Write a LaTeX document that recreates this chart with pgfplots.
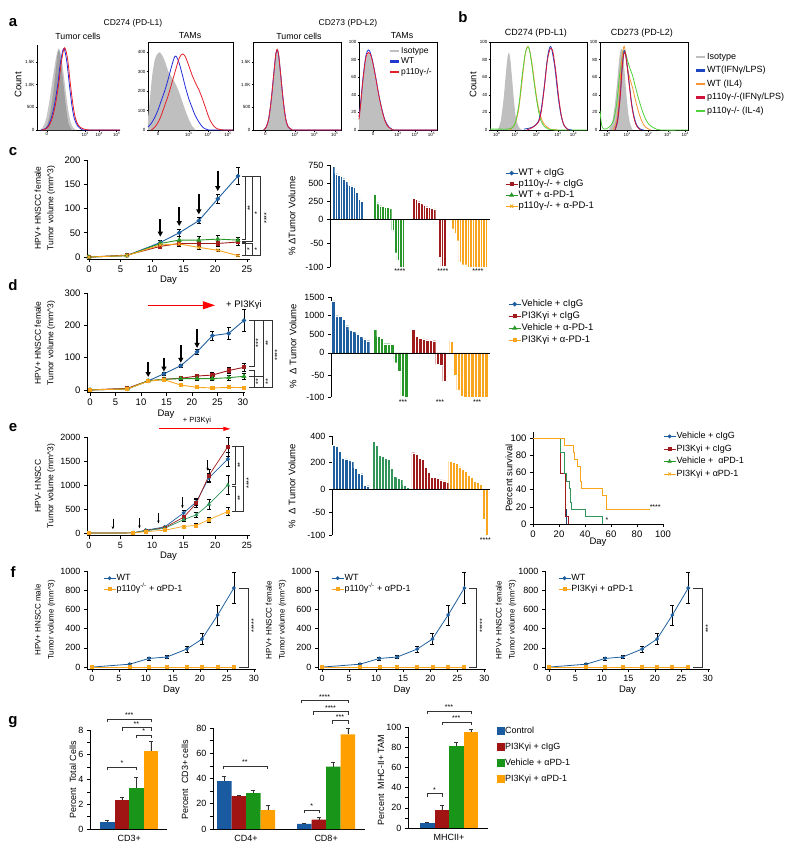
\documentclass[border=0pt]{standalone}
\usepackage{fontspec}
\setmainfont{Liberation Sans}
\usepackage{pgfplots}
\pgfplotsset{compat=1.18}
\usetikzlibrary{arrows.meta}

\definecolor{cblue}{RGB}{31,95,160}
\definecolor{cred}{RGB}{160,28,28}
\definecolor{cgreen}{RGB}{40,150,40}
\definecolor{corange}{RGB}{250,165,30}
\definecolor{egreen}{RGB}{50,150,90}
\definecolor{hblue}{RGB}{35,45,220}
\definecolor{hred}{RGB}{230,30,40}
\definecolor{bblue}{RGB}{30,70,190}
\definecolor{borange}{RGB}{245,150,50}
\definecolor{bred}{RGB}{210,20,60}
\definecolor{bgreen}{RGB}{80,210,60}
\definecolor{gblue}{RGB}{25,90,160}
\definecolor{gred}{RGB}{160,20,20}
\definecolor{ggreen}{RGB}{25,150,25}
\definecolor{gorange}{RGB}{255,160,0}

\newcommand{\fs}[1]{\fontsize{#1}{#1}\selectfont}
\newcommand{\vbr}[7]{\draw[line width=0.5pt, black!80] (axis cs:#1,#3) -- (axis cs:#2,#3) -- (axis cs:#2,#4) -- (axis cs:#1,#4); \node[rotate=90, font=\fs{7}, inner sep=0pt] at (axis cs:#6,#7) {#5};}
\newcommand{\hbr}[6]{\draw[line width=0.5pt, black!80] (axis cs:#1,#4) -- (axis cs:#1,#3) -- (axis cs:#2,#3) -- (axis cs:#2,#4); \node[font=\fs{7}, anchor=south, inner sep=1pt] at (axis cs:#6,#3) {#5};}

\tikzset{
  arr/.style={-{Triangle[length=5pt,width=5pt]}, line width=1.8pt, black},
  sarr/.style={-{Stealth[length=3pt,width=2.5pt]}, line width=0.7pt, black},
}

\pgfplotsset{
  base/.style={scale only axis, anchor=south west, clip=false,
    tick align=outside, axis line style={line width=0.6pt, black},
    tick style={black, line width=0.6pt}, major tick length=3pt,
    /pgf/number format/assume math mode=true,
    /pgf/number format/1000 sep={},
    tick label style={font=\fs{9.5}},
    label style={font=\fs{9.5}}},
  hist/.style={base, xmin=0, xmax=100, ymin=0, tick pos=left,
    tick label style={font=\fs{4.5}},
    major tick length=1.5pt, axis line style={line width=0.5pt},
    tick style={black, line width=0.4pt},
    xticklabel style={inner sep=1pt}, yticklabel style={inner sep=1pt}},
  lg/.style={legend style={draw=none, fill=none, anchor=north west,
      nodes={inner sep=0.5pt, text height=7pt, text depth=2pt}, row sep=1pt},
    legend cell align=left,
    legend image code/.code={\draw[mark repeat=2, mark phase=2] plot coordinates {(0pt,0pt)(6pt,0pt)(12pt,0pt)};}},
  ln/.style={base, axis lines*=left, xlabel={Day}, xlabel style={yshift=3pt}, lg},
  wf/.style={base, axis y line*=left, axis x line=none, ymin=-100, xtick=\empty, tick label style={font=\fs{9}}},
  gb/.style={base, axis lines*=left, ymin=0, xtick style={draw=none}, minor y tick num=1, tick label style={font=\fs{9}}},
  eb/.style={error bars/y dir=both, error bars/y explicit,
    error bars/error bar style={line width=0.6pt, black},
    error bars/error mark options={rotate=90, mark size=2pt, line width=0.6pt, black}},
  ebp/.style={error bars/y dir=plus, error bars/y explicit,
    error bars/error bar style={line width=0.5pt, black!80},
    error bars/error mark options={rotate=90, mark size=2pt, line width=0.5pt, black!80}},
  hb/.style={ybar, bar width=1, bar shift=0pt, draw=white, line width=0.15pt},
  gbar/.style={ybar, bar width=1, bar shift=0pt, draw=none, forget plot, ebp},
  sB/.style={cblue, line width=0.9pt, mark=*, mark size=1.8pt, mark options={solid}, eb},
  sR/.style={cred, line width=0.9pt, mark=square*, mark size=1.6pt, mark options={solid}, eb},
  sG/.style={cgreen, line width=0.9pt, mark=triangle*, mark size=2pt, mark options={solid}, eb},
  sO/.style={corange, line width=0.9pt, mark=x, mark size=2.2pt, mark options={solid}, eb},
  sOs/.style={corange, line width=0.9pt, mark=square*, mark size=1.6pt, mark options={solid}, eb},
  hl/.style={line width=0.8pt, smooth, forget plot},
  hf/.style={draw=none, smooth, forget plot},
}

\begin{document}
\begin{tikzpicture}
\path[use as bounding box] (0pt,0pt) rectangle (800pt,-852pt);

% ---------- panel letters and titles ----------
\node[font=\bfseries\fs{15}] at (13pt,-23pt) {a};
\node[font=\bfseries\fs{15}] at (463pt,-17pt) {b};
\node[font=\bfseries\fs{15}] at (13pt,-152pt) {c};
\node[font=\bfseries\fs{15}] at (13pt,-285pt) {d};
\node[font=\bfseries\fs{15}] at (13pt,-428pt) {e};
\node[font=\bfseries\fs{15}] at (13pt,-572pt) {f};
\node[font=\bfseries\fs{15}] at (13pt,-722pt) {g};

\node[font=\fs{8.5}] at (133pt,-23pt) {CD274 (PD-L1)};
\node[font=\fs{8.5}] at (348pt,-23pt) {CD273 (PD-L2)};
\node[font=\fs{8.8}] at (78pt,-36pt) {Tumor cells};
\node[font=\fs{8.8}] at (190pt,-36pt) {TAMs};
\node[font=\fs{8.8}] at (299pt,-36pt) {Tumor cells};
\node[font=\fs{8.8}] at (402pt,-36pt) {TAMs};
\node[font=\fs{9}] at (536pt,-33pt) {CD274 (PD-L1)};
\node[font=\fs{9}] at (642pt,-33pt) {CD273 (PD-L2)};
\node[font=\fs{9.5}, rotate=90] at (18pt,-85pt) {Count};
\node[font=\fs{9.5}, rotate=90] at (473pt,-85pt) {Count};

% y labels
\node[font=\fs{8.5}, rotate=90, align=center] at (45pt,-208pt) {HPV+ HNSCC female\\[4pt]Tumor volume (mm\textasciicircum 3)};
\node[font=\fs{8.5}, rotate=90, align=center] at (45pt,-343pt) {HPV+ HNSCC female\\[4pt]Tumor volume (mm\textasciicircum 3)};
\node[font=\fs{8.5}, rotate=90, align=center] at (45pt,-486pt) {HPV- HNSCC\\[4pt]Tumor volume (mm\textasciicircum 3)};
\node[font=\fs{8}, rotate=90, align=center] at (45pt,-620pt) {HPV+ HNSCC male\\[5pt]Tumor volume (mm\textasciicircum 3)};
\node[font=\fs{8}, rotate=90, align=center] at (276pt,-620pt) {HPV+ HNSCC female\\[5pt]Tumor volume (mm\textasciicircum 3)};
\node[font=\fs{8}, rotate=90, align=center] at (506pt,-620pt) {HPV+ HNSCC female\\[5pt]Tumor volume (mm\textasciicircum 3)};
\node[font=\fs{9.5}, rotate=90] at (292pt,-216pt) {\% ΔTumor Volume};
\node[font=\fs{9.5}, rotate=90] at (293pt,-346pt) {\%~~Δ~Tumor Volume};
\node[font=\fs{9.5}, rotate=90] at (292pt,-486pt) {\%~~Δ~Tumor Volume};
\node[font=\fs{9.5}, rotate=90] at (509pt,-478pt) {Percent survival};
\node[font=\fs{9}, rotate=90] at (73pt,-780pt) {Percent~~Total Cells};
\node[font=\fs{9}, rotate=90] at (185pt,-780pt) {Percent~~CD3+ cells};
\node[font=\fs{9}, rotate=90] at (381pt,-780pt) {Percent~~MHC-II+ TAM};

% ---------- panel a ----------
\begin{axis}[hist, axis lines*=left, at={(37pt,-130pt)}, width=83pt, height=85pt, ymax=1875,
  xtick={12,58,75,96}, xticklabels={0,10\textsuperscript{3},10\textsuperscript{4},10\textsuperscript{5}},
  ytick={0,500,1000,1500}, yticklabels={0,500,1.0K,1.5K}]
\addplot[hf, fill=gray!45] coordinates {(3,0)(7,60)(11,250)(15,650)(19,1150)(23,1600)(26,1800)(29,1650)(32,1250)(35,800)(38,400)(41,150)(44,40)(48,0)} \closedcycle;
\addplot[hf, fill=gray!75] coordinates {(8,0)(12,100)(16,400)(20,900)(23,1400)(25,1700)(27,1750)(29,1500)(32,1000)(35,500)(38,150)(42,0)} \closedcycle;
\addplot[hl, hblue] coordinates {(5,0)(9,20)(13,80)(17,250)(21,550)(25,1000)(28,1450)(31,1750)(33,1780)(36,1500)(39,1000)(42,550)(45,250)(49,90)(53,25)(58,0)(100,0)};
\addplot[hl, hred] coordinates {(6,0)(10,20)(14,80)(18,240)(22,540)(26,1000)(29,1450)(32,1770)(34,1800)(37,1550)(40,1050)(43,600)(46,280)(50,100)(55,30)(60,5)(70,0)(100,0)};
\end{axis}

\begin{axis}[hist, at={(148pt,-130pt)}, width=85pt, height=88pt, ymax=451,
  xtick={12,48,71,94}, xticklabels={0,10\textsuperscript{3},10\textsuperscript{4},10\textsuperscript{5}},
  ytick={0,100,200,300,400}]
\addplot[hf, fill=gray!50] coordinates {(0,60)(2,150)(5,280)(8,360)(11,390)(14,398)(17,380)(20,350)(24,300)(28,270)(32,240)(36,200)(40,150)(44,100)(48,55)(52,20)(56,0)} \closedcycle;
\addplot[hl, hblue] coordinates {(0,15)(4,35)(8,65)(12,105)(16,155)(20,205)(24,265)(28,330)(31,372)(33,378)(36,352)(40,290)(44,220)(48,160)(51,125)(55,80)(60,40)(65,12)(70,2)(75,0)(100,0)};
\addplot[hl, hred] coordinates {(4,0)(8,15)(12,40)(16,80)(20,130)(24,180)(28,240)(32,300)(36,360)(39,385)(41,390)(44,375)(48,330)(52,280)(56,240)(60,205)(64,160)(68,110)(72,60)(76,28)(80,10)(85,2)(90,0)(100,0)};
\end{axis}

\begin{axis}[hist, at={(253pt,-130pt)}, width=88pt, height=88pt, ymax=1940,
  xtick={14,48,70,93}, xticklabels={0,10\textsuperscript{3},10\textsuperscript{4},10\textsuperscript{5}},
  ytick={0,500,1000,1500}, yticklabels={0,500,1.0K,1.5K}]
\addplot[hf, fill=gray!50] coordinates {(12,0)(15,60)(18,250)(21,700)(24,1300)(26,1650)(27.5,1750)(29,1650)(31,1300)(34,700)(37,250)(40,60)(44,0)} \closedcycle;
\addplot[hl, hblue] coordinates {(12,0)(15,70)(18,270)(21,720)(24,1320)(26,1680)(27.5,1760)(29,1670)(31,1320)(34,720)(37,270)(40,70)(44,10)(50,0)(100,0)};
\addplot[hl, hred] coordinates {(12,0)(15,60)(18,260)(21,710)(24,1310)(26,1690)(27.5,1780)(29,1680)(31,1310)(34,710)(37,260)(40,65)(44,10)(50,0)(100,0)};
\end{axis}

\begin{axis}[hist, at={(359pt,-130pt)}, width=78pt, height=88pt, ymax=100,
  xtick={18,50,72,93}, xticklabels={0,10\textsuperscript{3},10\textsuperscript{4},10\textsuperscript{5}},
  ytick={0,20,...,100},
  legend style={at={(0.98,0.97)}, anchor=north east, draw=none, fill=none, font=\fs{8.5},
    nodes={inner sep=0.5pt, text height=6pt, text depth=1.5pt}, row sep=2pt},
  legend cell align=left]
\addplot[hf, fill=gray!50] coordinates {(0,12)(3,35)(6,62)(9,80)(11,86)(13,87)(16,80)(20,62)(24,42)(28,25)(32,12)(36,5)(40,1)(44,0)} \closedcycle;
\addplot[hl, hblue] coordinates {(0,15)(2,30)(5,58)(8,80)(10,88)(12,91)(14,89)(17,80)(21,62)(25,42)(29,25)(33,12)(37,5)(42,1)(48,0)(100,0)};
\addplot[hl, hred] coordinates {(0,12)(2,28)(5,56)(8,78)(10,86)(12,88)(14,87)(17,79)(21,61)(25,41)(29,24)(33,11)(37,4)(42,1)(48,0)(100,0)};
\addlegendimage{gray!50, line width=2.5pt, legend image code/.code={\draw (0pt,0pt)--(9pt,0pt);}}
\addlegendentry{Isotype}
\addlegendimage{hblue!80!cblue, line width=2.5pt, legend image code/.code={\draw (0pt,0pt)--(9pt,0pt);}}
\addlegendentry{WT}
\addlegendimage{hred, line width=2.5pt, legend image code/.code={\draw (0pt,0pt)--(9pt,0pt);}}
\addlegendentry{p110γ-/-}
\end{axis}

% ---------- panel b ----------
\begin{axis}[hist, at={(490pt,-130pt)}, width=97pt, height=88pt, ymax=100,
  xtick={7,26,48,70,86}, xticklabels={10\textsuperscript{0},10\textsuperscript{1},10\textsuperscript{2},10\textsuperscript{3},10\textsuperscript{4}},
  ytick={0,20,...,100}]
\addplot[hf, fill=gray!50] coordinates {(8,0)(11,10)(14,35)(16,60)(18,82)(19.5,88)(21,80)(23,55)(25,30)(27,12)(30,3)(33,0)} \closedcycle;
\addplot[hl, borange] coordinates {(20,0)(25,5)(29,20)(32,45)(35,75)(37,90)(39,95)(41,90)(44,70)(47,45)(50,25)(54,10)(58,4)(62,1)(70,0)};
\addplot[hl, bgreen] coordinates {(0,1)(10,1)(18,1)(22,2)(26,8)(30,30)(33,60)(36,85)(38.5,94)(40.5,92)(43,75)(46,50)(49,28)(52,12)(56,4)(60,1)(70,0)(100,0)};
\addplot[hl, bblue] coordinates {(35,1)(40,2)(45,4)(50,10)(53,25)(56,50)(59,80)(61,92)(62.5,95)(64,90)(67,70)(70,40)(73,18)(76,6)(80,1)(85,0)};
\addplot[hl, bred] coordinates {(38,0)(44,3)(50,9)(53,22)(56,48)(59,78)(61.5,91)(63,93)(65,88)(68,65)(71,35)(74,14)(77,4)(81,0)};
\end{axis}

\begin{axis}[hist, at={(600pt,-130pt)}, width=88pt, height=88pt, ymax=100,
  xtick={8,31,55,77,97}, xticklabels={10\textsuperscript{0},10\textsuperscript{1},10\textsuperscript{2},10\textsuperscript{3},10\textsuperscript{4}},
  ytick={0,20,...,100},
  legend style={at={(1.045,0.91)}, anchor=north west, draw=none, fill=none, font=\fs{9},
    nodes={inner sep=0.5pt, text height=6.5pt, text depth=2pt}, row sep=4pt},
  legend cell align=left]
\addplot[hf, fill=gray!50] coordinates {(10,0)(14,10)(17,30)(20,60)(22,82)(24,92)(26,88)(28,65)(30,40)(32,20)(34,8)(37,0)} \closedcycle;
\addplot[hl, bgreen] coordinates {(0,22)(2,5)(5,1)(10,3)(15,10)(19,30)(22,60)(25,82)(27,90)(29,88)(31,80)(34,70)(37,62)(40,50)(44,35)(48,22)(52,12)(56,6)(62,2)(70,0)(100,0)};
\addplot[hl, borange] coordinates {(15,0)(19,12)(22,40)(24,72)(26,90)(27.5,95)(29,88)(31,72)(34,58)(37,48)(40,35)(44,20)(48,9)(52,3)(58,0)};
\addplot[hl, bblue] coordinates {(17,0)(20,12)(23,40)(25,70)(27,88)(28,90)(30,80)(33,55)(36,30)(39,14)(42,5)(46,1)(50,0)};
\addplot[hl, bred] coordinates {(17,0)(20,10)(23,38)(25,68)(27,86)(28.5,88)(30,80)(33,53)(36,28)(39,12)(42,4)(46,0)};
\addlegendimage{gray!50, line width=2.5pt, legend image code/.code={\draw (0pt,0pt)--(9pt,0pt);}}
\addlegendentry{Isotype}
\addlegendimage{bblue, line width=2.5pt, legend image code/.code={\draw (0pt,0pt)--(9pt,0pt);}}
\addlegendentry{WT(IFNγ/LPS)}
\addlegendimage{borange, line width=2.5pt, legend image code/.code={\draw (0pt,0pt)--(9pt,0pt);}}
\addlegendentry{WT (IL4)}
\addlegendimage{bred, line width=2.5pt, legend image code/.code={\draw (0pt,0pt)--(9pt,0pt);}}
\addlegendentry{p110γ-/-(IFNγ/LPS)}
\addlegendimage{bgreen, line width=2.5pt, legend image code/.code={\draw (0pt,0pt)--(9pt,0pt);}}
\addlegendentry{p110γ-/- (IL-4)}
\end{axis}

% ---------- panel c ----------
\begin{axis}[ln, at={(87pt,-259pt)}, width=163pt, height=99pt, xmin=-0.3, xmax=25.5, ymin=-4, ymax=200,
  xtick={0,5,...,25}, ytick={0,50,...,200},
  legend style={at={(2.546,0.94)}, font=\fs{9.5}}]
\addplot[sB] coordinates {(0,0)+-(0,0) (6,3)+-(0,1) (11.3,30)+-(0,5) (14.3,50)+-(0,7) (17.4,75)+-(0,6) (20.4,120)+-(0,9) (23.6,167)+-(0,18)};
\addlegendentry{WT + cIgG}
\addplot[sR] coordinates {(0,0)+-(0,0) (6,4)+-(0,2) (11.3,22)+-(0,3) (14.3,28)+-(0,4) (17.4,28)+-(0,5) (20.4,28)+-(0,5) (23.6,31)+-(0,6)};
\addlegendentry{p110γ-/- + cIgG}
\addplot[sG] coordinates {(0,0)+-(0,0) (6,3)+-(0,1) (11.3,28)+-(0,6) (14.3,35)+-(0,7) (17.4,35)+-(0,7) (20.4,37)+-(0,7) (23.6,35)+-(0,6)};
\addlegendentry{WT + α-PD-1}
\addplot[sO] coordinates {(0,0)+-(0,0) (6,3)+-(0,1) (11.3,25)+-(0,3) (14.3,27)+-(0,4) (17.4,20)+-(0,3) (20.4,14)+-(0,3) (23.6,3)+-(0,2)};
\addlegendentry{p110γ-/- + α-PD-1}
\draw[arr] (axis cs:11.3,78) -- (axis cs:11.3,42);
\draw[arr] (axis cs:14.3,103) -- (axis cs:14.3,64);
\draw[arr] (axis cs:17.4,130) -- (axis cs:17.4,88);
\draw[arr] (axis cs:20.4,178) -- (axis cs:20.4,136);
\vbr{24.2}{24.7}{167}{37}{**}{25.5}{101}
\vbr{24.2}{25.8}{167}{33}{*}{26.6}{90}
\vbr{24.2}{27.2}{167}{3}{****}{28.1}{80}
\vbr{24.2}{24.7}{31}{3}{*}{25.4}{17}
\vbr{24.2}{25.8}{29}{3}{*}{26.6}{17}
\end{axis}

\begin{axis}[wf, at={(330pt,-267pt)}, width=160pt, height=102pt, xmin=-0.3, xmax=61.5, ymax=112.5,
  y filter/.expression={y>0 ? 0.15*y : y},
  ytick={-100,-50,0,37.5,75,112.5}, yticklabels={-100,-50,0,250,500,750}]
\addplot[hb, fill=cblue] coordinates {(1,730)(2,630)(3,610)(4,590)(5,560)(6,520)(7,470)(8,460)(9,440)(10,370)(11,280)(12,250)};
\addplot[hb, fill=cgreen] coordinates {(17,343)(18,227)(19,185)(20,175)(21,170)(22,160)(23,145)(24,-23)(25,-70)(26,-85)(27,-100)(28,-100)};
\addplot[hb, fill=cred] coordinates {(32,290)(33,270)(34,240)(35,218)(36,195)(37,172)(38,162)(39,150)(40,140)(42,-79)(43,-99)(44,-99)};
\addplot[hb, fill=corange] coordinates {(47,-20)(48,-30)(49,-45)(50,-90)(51,-95)(52,-95)(53,-100)(54,-100)(55,-100)(56,-100)(57,-100)(58,-100)(59,-100)(60,-100)};
\draw[line width=0.6pt] (axis cs:-0.3,0) -- (axis cs:61.5,0);
\node[font=\fs{7}, anchor=north, inner sep=1pt] at (axis cs:26.7,-102) {****};
\node[font=\fs{7}, anchor=north, inner sep=1pt] at (axis cs:43.3,-102) {****};
\node[font=\fs{7}, anchor=north, inner sep=1pt] at (axis cs:56.8,-102) {****};
\end{axis}

% ---------- panel d ----------
\begin{axis}[ln, at={(87pt,-392.5pt)}, width=158pt, height=99.5pt, xmin=-0.6, xmax=30.4, ymin=-8, ymax=300,
  xtick={0,5,...,30}, ytick={0,100,200,300},
  legend style={at={(2.646,0.96)}, font=\fs{9.5}, row sep=2pt}]
\addplot[sB] coordinates {(0,0)+-(0,0) (7.3,3)+-(0,1) (11.4,28)+-(0,3) (14.5,50)+-(0,4) (17.8,75)+-(0,5) (21,118)+-(0,8) (24,168)+-(0,15) (27.2,175)+-(0,18) (30.2,215)+-(0,35)};
\addlegendentry{Vehicle + cIgG}
\addplot[sR] coordinates {(0,0)+-(0,0) (7.3,5)+-(0,2) (11.4,28)+-(0,3) (14.5,33)+-(0,4) (17.8,36)+-(0,5) (21,43)+-(0,6) (24,46)+-(0,8) (27.2,60)+-(0,10) (30.2,70)+-(0,12)};
\addlegendentry{PI3Kγi + cIgG}
\addplot[sG] coordinates {(0,0)+-(0,0) (7.3,3)+-(0,1) (11.4,28)+-(0,3) (14.5,33)+-(0,4) (17.8,35)+-(0,5) (21,35)+-(0,5) (24,35)+-(0,6) (27.2,38)+-(0,8) (30.2,42)+-(0,8)};
\addlegendentry{Vehicle + α-PD-1}
\addplot[sOs] coordinates {(0,0)+-(0,0) (7.3,3)+-(0,1) (11.4,27)+-(0,3) (14.5,32)+-(0,4) (17.8,15)+-(0,4) (21,8)+-(0,3) (24,6)+-(0,2) (27.2,8)+-(0,3) (30.2,7)+-(0,2)};
\addlegendentry{PI3Kγi + α-PD-1}
\draw[arr] (axis cs:11.4,87) -- (axis cs:11.4,40);
\draw[arr] (axis cs:14.5,99) -- (axis cs:14.5,57);
\draw[arr] (axis cs:17.8,139) -- (axis cs:17.8,84);
\draw[arr] (axis cs:21,190) -- (axis cs:21,130);
\draw[-{Triangle[length=12pt,width=8pt]}, red, line width=1pt] (axis cs:11.4,262) -- (axis cs:24.5,262);
\node[anchor=west, font=\fs{9.5}] at (axis cs:26,262) {+ PI3Kγi};
\vbr{31.2}{32.2}{215}{72}{***}{33}{145}
\vbr{31.2}{33.9}{215}{42}{**}{34.9}{145}
\vbr{31.2}{35.7}{215}{7}{****}{36.7}{108}
\vbr{31.2}{32.2}{60}{7}{**}{33}{25}
\vbr{31.2}{33.9}{42}{7}{**}{34.9}{25}
\end{axis}

\begin{axis}[wf, at={(331pt,-397pt)}, width=159pt, height=100pt, xmin=0.4, xmax=46.1, ymax=126.7,
  y filter/.expression={y>0 ? 0.0844*y : y},
  ytick={-100,-50,0,42.2,84.4,126.7}, yticklabels={-100,-50,0,500,1000,1500}]
\addplot[hb, fill=cblue] coordinates {(1,1400)(2,1000)(3,980)(4,907)(5,730)(6,608)(7,580)(8,514)(9,440)(10,374)(11,327)};
\addplot[hb, fill=cgreen] coordinates {(13,630)(14,440)(15,400)(16,250)(17,250)(18,235)(19,-22)(20,-42)(21,-98)(22,-100)};
\addplot[hb, fill=cred] coordinates {(24,630)(25,440)(26,395)(27,375)(28,350)(29,340)(30,330)(31,-26)(32,-28)(33,-64)};
\addplot[hb, fill=corange] coordinates {(35,318)(36,-50)(37,-85)(38,-98)(39,-100)(40,-100)(41,-100)(42,-100)(43,-100)(44,-100)(45,-100)};
\draw[line width=0.6pt] (axis cs:0.4,0) -- (axis cs:46.1,0);
\node[font=\fs{7}, anchor=north, inner sep=1pt] at (axis cs:21.1,-103) {***};
\node[font=\fs{7}, anchor=north, inner sep=1pt] at (axis cs:31.7,-103) {***};
\node[font=\fs{7}, anchor=north, inner sep=1pt] at (axis cs:42.4,-103) {***};
\end{axis}

% ---------- panel e ----------
\begin{axis}[ln, at={(87pt,-535.5pt)}, width=163pt, height=98.5pt, xmin=-0.3, xmax=25.5, ymin=-50, ymax=2000,
  xtick={0,5,...,25}, ytick={0,500,...,2000}, tick label style={font=\fs{9}}]
\addplot[sB, mark size=1.6pt, line width=0.7pt] coordinates {(0,0)+-(0,0) (7,5)+-(0,0) (9,60)+-(0,10) (12,130)+-(0,20) (15,420)+-(0,50) (17,650)+-(0,80) (19,1150)+-(0,100) (22,1540)+-(0,150)};
\addplot[sR, mark size=1.5pt, line width=0.7pt] coordinates {(0,0)+-(0,0) (7,5)+-(0,0) (9,50)+-(0,10) (12,115)+-(0,20) (15,330)+-(0,50) (17,620)+-(0,80) (19,1200)+-(0,120) (22,1800)+-(0,200)};
\addplot[sG, egreen, mark size=1.8pt, line width=0.7pt] coordinates {(0,0)+-(0,0) (7,5)+-(0,0) (9,50)+-(0,10) (12,100)+-(0,15) (15,280)+-(0,40) (17,380)+-(0,60) (19,600)+-(0,100) (22,1000)+-(0,200)};
\addplot[sOs, mark size=1.5pt, line width=0.7pt] coordinates {(0,0)+-(0,0) (7,3)+-(0,0) (9,30)+-(0,5) (12,60)+-(0,10) (15,140)+-(0,20) (17,160)+-(0,40) (19,280)+-(0,50) (22,450)+-(0,80)};
\draw[sarr] (axis cs:3.8,300) -- (axis cs:3.8,80);
\draw[sarr] (axis cs:8,320) -- (axis cs:8,100);
\draw[sarr] (axis cs:11,420) -- (axis cs:11,200);
\draw[sarr] (axis cs:14.8,750) -- (axis cs:14.8,520);
\draw[sarr] (axis cs:18.8,1530) -- (axis cs:18.8,1300);
\draw[-{Triangle[length=7pt,width=4pt]}, red, line width=0.8pt] (axis cs:11.1,2170) -- (axis cs:22.4,2170);
\node[font=\fs{7.5}] at (axis cs:17.1,2350) {+ PI3Kγi};
\vbr{22.6}{23.1}{1800}{1020}{**}{23.9}{1417}
\vbr{22.6}{24.5}{1800}{450}{****}{25.3}{1040}
\vbr{22.6}{23.1}{980}{450}{**}{23.9}{730}
\end{axis}

\begin{axis}[wf, at={(332pt,-535pt)}, width=158pt, height=99pt, xmin=0.4, xmax=52, ymax=117.4,
  y filter/.expression={y>0 ? 0.2935*y : y},
  ytick={-100,-50,0,58.7,117.4}, yticklabels={-100,-50,0,200,400}]
\addplot[hb, fill=cblue] coordinates {(1,330)(2,325)(3,285)(4,232)(5,228)(6,222)(7,210)(8,160)(9,120)(10,118)(11,30)(12,28)};
\addplot[hb, fill=egreen] coordinates {(14,360)(15,330)(16,255)(17,250)(18,235)(19,225)(20,160)(21,100)(22,85)(23,75)(24,30)(25,18)};
\addplot[hb, fill=cred] coordinates {(27,275)(28,265)(29,235)(30,225)(31,165)(32,130)(33,90)(34,90)(35,85)(36,72)(37,65)(38,55)};
\addplot[hb, fill=corange] coordinates {(39,210)(40,205)(41,195)(42,170)(43,155)(44,140)(45,110)(46,90)(47,60)(48,55)(49,40)(50,-65)(51,-100)};
\draw[line width=0.6pt] (axis cs:0.4,0) -- (axis cs:52,0);
\node[font=\fs{7}, anchor=north, inner sep=1pt] at (axis cs:50.5,-103) {****};
\end{axis}

\begin{axis}[base, axis lines*=left, lg, at={(533pt,-524pt)}, width=130pt, height=92pt,
  xmin=0, xmax=100, ymin=0, ymax=107, xtick={0,20,...,100}, ytick={0,20,...,100},
  tick label style={font=\fs{9.5}}, xlabel={Day}, xlabel style={yshift=6pt, font=\fs{9.5}},
  legend style={at={(0.977,1.03)}, font=\fs{9}, row sep=2.5pt}]
\addplot[const plot, cblue!70!black, line width=0.8pt, forget plot] coordinates {(0,100)(21,83.3)(24.4,58.3)(25,16.7)(26,0)};
\addplot[const plot, cred, line width=0.8pt, forget plot] coordinates {(0,100)(21,58.3)(25,8.3)(27,0)};
\addplot[const plot, egreen, line width=0.8pt, forget plot] coordinates {(0,100)(21,83.3)(24.4,58.3)(26,50)(27.7,41.7)(28.7,25)(29.7,16.7)(40.5,8.3)(53.3,0)};
\addplot[const plot, corange, line width=0.8pt, forget plot] coordinates {(0,100)(24.5,91.7)(30.8,83.3)(32,75)(34.5,66.7)(36.5,50)(37.5,41.7)(53.3,33.3)(56.5,16.7)(90,16.7)};
\addlegendimage{cblue, line width=0.8pt, mark=*, mark size=1.6pt}
\addlegendentry{Vehicle + cIgG}
\addlegendimage{cred, line width=0.8pt, mark=square*, mark size=1.5pt}
\addlegendentry{ PI3Kγi + cIgG}
\addlegendimage{cgreen, line width=0.8pt, mark=triangle*, mark size=1.8pt}
\addlegendentry{Vehicle +~~αPD-1}
\addlegendimage{corange, line width=0.8pt, mark=x, mark size=2pt}
\addlegendentry{PI3Kγi + αPD-1}
\node[font=\fs{7}] at (axis cs:94,20) {****};
\node[font=\fs{7}] at (axis cs:57,5) {*};
\end{axis}

% ---------- panel f ----------
\begin{axis}[ln, at={(87pt,-669pt)}, width=169pt, height=98pt, xmin=-0.9, xmax=30.4, ymin=-20, ymax=1000,
  xtick={0,5,...,30}, ytick={0,200,...,1000}, tick label style={font=\fs{9}},
  legend style={at={(0.077,1.0)}, font=\fs{9}, row sep=1pt}]
\addplot[sB, mark size=1.5pt, line width=0.8pt] coordinates {(0,0)+-(0,0) (7,30)+-(0,8) (10.6,90)+-(0,15) (13.9,105)+-(0,15) (17.6,188)+-(0,30) (20.4,292)+-(0,55) (23.3,542)+-(0,105) (26.3,823)+-(0,160)};
\addlegendentry{WT}
\addplot[sOs, mark size=1.5pt, line width=0.8pt] coordinates {(0,0)(7,0)(10.6,0)(13.9,0)(17.6,0)(20.4,0)(23.3,0)(26.3,0)};
\addlegendentry{p110γ\textsuperscript{-/-} + αPD-1}
\vbr{27.2}{28.9}{823}{0}{*****}{30.0}{430}
\end{axis}

\begin{axis}[ln, at={(318pt,-669pt)}, width=168pt, height=98pt, xmin=-0.75, xmax=30.3, ymin=-20, ymax=1000,
  xtick={0,5,...,30}, ytick={0,200,...,1000}, tick label style={font=\fs{9}},
  legend style={at={(0.06,1.0)}, font=\fs{9}, row sep=1pt}]
\addplot[sB, mark size=1.5pt, line width=0.8pt] coordinates {(0,0)+-(0,0) (7,30)+-(0,8) (10.6,90)+-(0,15) (13.9,105)+-(0,15) (17.6,188)+-(0,30) (20.4,292)+-(0,55) (23.3,542)+-(0,105) (26.3,823)+-(0,160)};
\addlegendentry{WT}
\addplot[sOs, mark size=1.5pt, line width=0.8pt] coordinates {(0,0)(7,0)(10.6,0)(13.9,0)(17.6,0)(20.4,0)(23.3,0)(26.3,0)};
\addlegendentry{p110γ\textsuperscript{-/-} + αPD-1}
\vbr{27.2}{28.5}{823}{0}{*****}{29.6}{430}
\end{axis}

\begin{axis}[ln, at={(545pt,-669pt)}, width=165pt, height=98pt, xmin=-0.75, xmax=30.4, ymin=-20, ymax=1000,
  xtick={0,5,...,30}, ytick={0,200,...,1000}, tick label style={font=\fs{9}},
  legend style={at={(0.06,1.0)}, font=\fs{9}, row sep=1pt}]
\addplot[sB, mark size=1.5pt, line width=0.8pt] coordinates {(0,0)+-(0,0) (7,30)+-(0,8) (10.6,90)+-(0,15) (13.9,105)+-(0,15) (17.6,188)+-(0,30) (20.4,292)+-(0,55) (23.3,542)+-(0,105) (26.3,823)+-(0,160)};
\addlegendentry{WT}
\addplot[sOs, mark size=1.5pt, line width=0.8pt] coordinates {(0,0)(7,0)(10.6,0)(13.9,0)(17.6,0)(20.4,0)(23.3,0)(26.3,0)};
\addlegendentry{PI3Kγi + αPD-1}
\vbr{27.2}{28.9}{823}{0}{***}{30.0}{400}
\end{axis}

% ---------- panel g ----------
\begin{axis}[gb, at={(90pt,-829pt)}, width=77pt, height=99pt, xmin=-0.19, xmax=5.1, ymax=8,
  ytick={0,2,...,8}, xtick={2.5}, xticklabels={CD3+}]
\addplot[gbar, fill=gblue] coordinates {(1,0.6)+-(0,0.1)};
\addplot[gbar, fill=gred] coordinates {(2,2.35)+-(0,0.25)};
\addplot[gbar, fill=ggreen] coordinates {(3,3.35)+-(0,0.8)};
\addplot[gbar, fill=gorange] coordinates {(4,6.3)+-(0,0.8)};
\hbr{1}{3}{5.0}{4.75}{*}{2}
\hbr{1}{4}{8.9}{8.65}{***}{2.5}
\hbr{2}{4}{8.2}{7.95}{**}{3}
\hbr{3}{4}{7.6}{7.35}{*}{3.5}
\end{axis}

\begin{axis}[gb, at={(213pt,-829pt)}, width=152pt, height=101pt, xmin=0, xmax=10.48, ymax=80,
  ytick={0,20,...,80}, xtick={2.28,7.8}, xticklabels={CD4+,CD8+}]
\addplot[gbar, fill=gblue] coordinates {(0.78,38)+-(0,4) (6.3,4)+-(0,0.6)};
\addplot[gbar, fill=gred] coordinates {(1.78,26)+-(0,1) (7.3,7.5)+-(0,1.5)};
\addplot[gbar, fill=ggreen] coordinates {(2.78,28.5)+-(0,2.5) (8.3,49.5)+-(0,3)};
\addplot[gbar, fill=gorange] coordinates {(3.78,15)+-(0,4) (9.3,75)+-(0,5)};
\hbr{0.69}{3.72}{50}{47.5}{**}{2.2}
\hbr{6.28}{7.31}{15}{12.5}{*}{6.8}
\hbr{6.1}{9.3}{102}{99.5}{****}{7.7}
\hbr{6.9}{9.3}{93}{90.5}{****}{8.1}
\hbr{8.2}{9.3}{86}{83.5}{***}{8.75}
\end{axis}

\begin{axis}[gb, at={(408pt,-828pt)}, width=80pt, height=101pt, xmin=0, xmax=5.52, ymax=100,
  ytick={0,20,...,100}, xtick={2.83}, xticklabels={MHCII+},
  legend style={at={(1.075,1.03)}, anchor=north west, draw=none, fill=none, font=\fs{9},
    nodes={inner sep=0.5pt, text height=7pt, text depth=2pt}, row sep=6pt},
  legend cell align=left]
\addplot[gbar, fill=gblue] coordinates {(1.33,5)+-(0,1)};
\addplot[gbar, fill=gred] coordinates {(2.33,18)+-(0,5)};
\addplot[gbar, fill=ggreen] coordinates {(3.33,81)+-(0,4)};
\addplot[gbar, fill=gorange] coordinates {(4.33,95)+-(0,2.5)};
\hbr{1.33}{2.33}{34}{31}{*}{1.83}
\hbr{1.33}{4.33}{116}{113}{***}{2.83}
\hbr{2.33}{4.33}{105}{102}{***}{3.33}
\addlegendimage{gblue, fill=gblue, legend image code/.code={\fill (0pt,-3.5pt) rectangle (7pt,3.5pt);}}
\addlegendentry{Control}
\addlegendimage{gred, fill=gred, legend image code/.code={\fill (0pt,-3.5pt) rectangle (7pt,3.5pt);}}
\addlegendentry{PI3Kγi + cIgG}
\addlegendimage{ggreen, fill=ggreen, legend image code/.code={\fill (0pt,-3.5pt) rectangle (7pt,3.5pt);}}
\addlegendentry{Vehicle + αPD-1}
\addlegendimage{gorange, fill=gorange, legend image code/.code={\fill (0pt,-3.5pt) rectangle (7pt,3.5pt);}}
\addlegendentry{PI3Kγi + αPD-1}
\end{axis}

\end{tikzpicture}
\end{document}
